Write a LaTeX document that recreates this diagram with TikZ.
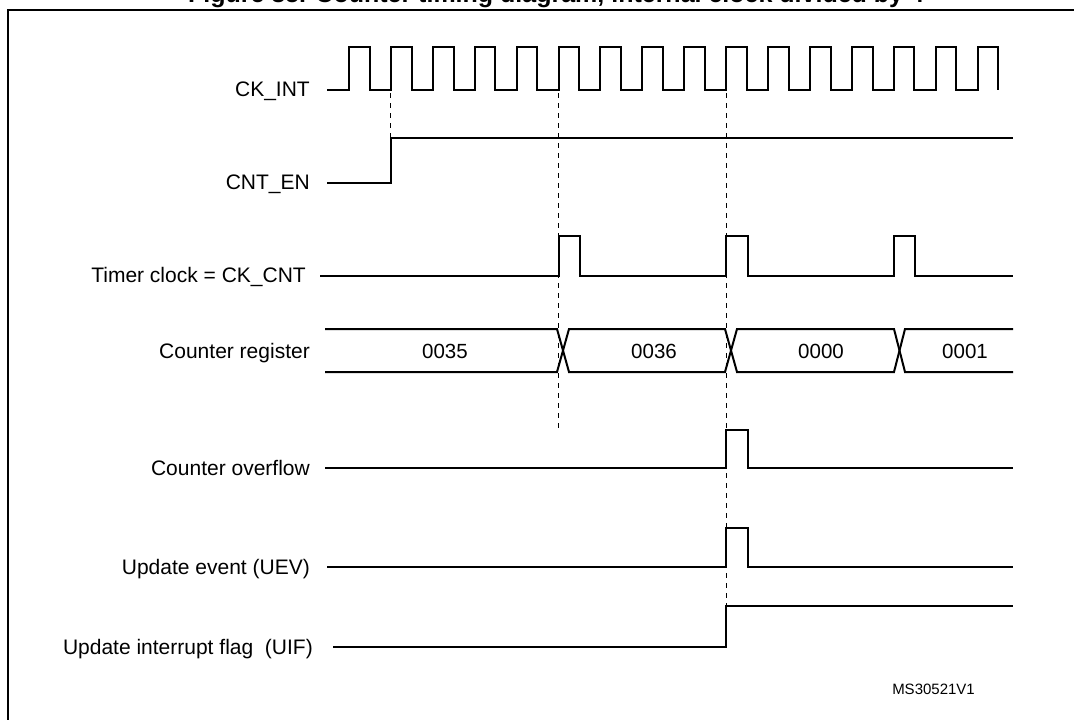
\documentclass[tikz,border=0pt]{standalone}
\usepackage{fontspec}
\setmainfont{Liberation Sans}
\begin{document}
\begin{tikzpicture}[x=1pt,y=-1pt,
  sig/.style={line width=2pt,line join=miter},
  frame/.style={line width=2.4pt},
  guide/.style={line width=0.9pt,dash pattern=on 5pt off 5pt},
  lbl/.style={font=\fontsize{21}{21}\selectfont,anchor=base east,inner sep=0pt},
  val/.style={font=\fontsize{20.5}{20.5}\selectfont,anchor=base,inner sep=0pt},
  ttl/.style={font=\bfseries\fontsize{25}{25}\selectfont,anchor=base,inner sep=0pt}]
\useasboundingbox (0,0) rectangle (1074,720);
\clip (0,0) rectangle (1074,720);
% title (cut off at top, as in the reference) and frame
\node[ttl] (title) at (556,2) {Figure 85. Counter timing diagram, internal clock divided by 4};
\draw[frame] (8,740) -- (8,10) -- (1090,10);
% labels
\node[lbl] (ckint) at (310,96) {CK\_INT};
\node[lbl] (cnten) at (310,189.5) {CNT\_EN};
\node[lbl] (tclk) at (306,282) {Timer clock = CK\_CNT};
\node[lbl] (creg) at (310,358) {Counter register};
\node[lbl] (covf) at (310,475) {Counter overflow};
\node[lbl] (uev) at (310,574) {Update event (UEV)};
\node[lbl] (uif) at (313,654) {Update interrupt flag\ \ (UIF)};
\node[font=\fontsize{15}{15}\selectfont,anchor=base east,inner sep=0pt] (ref) at (975,694) {MS30521V1};
% CK_INT
\draw[sig] (327,90) foreach \k in {0,...,15} {
  -- ({349+41.9*\k},90) -- ({349+41.9*\k},47) -- ({369.7+41.9*\k},47) -- ({369.7+41.9*\k},90) };
% CNT_EN
\draw[sig] (327,183) -- (390.9,183) -- (390.9,138) -- (1013,138);
% Timer clock
\draw[sig] (320,276) -- (558.5,276) -- (558.5,236) -- (580,236) -- (580,276)
  -- (726.1,276) -- (726.1,236) -- (747.6,236) -- (747.6,276)
  -- (893.7,276) -- (893.7,236) -- (915.2,236) -- (915.2,276) -- (1013,276);
% Counter register bus
\draw[sig] (325,329) -- (557,329) -- (569,372) -- (725,372) -- (737,329) -- (894,329) -- (905,372) -- (1013,372);
\draw[sig] (325,372) -- (557,372) -- (569,329) -- (725,329) -- (737,372) -- (894,372) -- (905,329) -- (1013,329);
\node[val] (v35) at (445,358) {0035};
\node[val] (v36) at (654,358) {0036};
\node[val] (v00) at (821,358) {0000};
\node[val] (v01) at (965,358) {0001};
% Counter overflow
\draw[sig] (325,468) -- (726.1,468) -- (726.1,430) -- (747.6,430) -- (747.6,468) -- (1013,468);
% Update event
\draw[sig] (327,567) -- (726.1,567) -- (726.1,528) -- (747.6,528) -- (747.6,567) -- (1013,567);
% UIF
\draw[sig] (333,647) -- (726.1,647) -- (726.1,606) -- (1013,606);
% guides
\draw[guide] (390.9,93) -- (390.9,137);
\draw[guide] (558.5,93) -- (558.5,430);
\draw[guide] (726.1,93) -- (726.1,605);
\end{tikzpicture}
\end{document}
